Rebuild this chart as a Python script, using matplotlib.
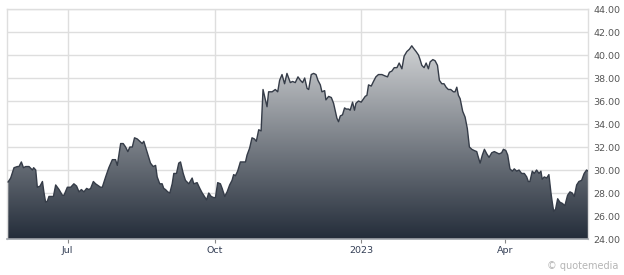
import matplotlib
matplotlib.use("Agg")
import matplotlib.pyplot as plt
import matplotlib.dates as mdates
import numpy as np
import pandas as pd
from matplotlib.colors import LinearSegmentedColormap

# Days since 2022-07-01 and closing prices
start_date = "2022-07-01"
days = [-37.3, -35.7, -33.6, -31.5, -30.5, -29.0, -27.7, -26.3, -24.2, -22.1, -21.3, -20.0,
        -19.0, -17.3, -15.8, -14.8, -13.8, -12.7, -11.7, -8.9, -7.5, -5.4, -3.3, -2.3, -0.2,
        1.9, 3.9, 5.6, 7.1, 8.6, 10.2, 11.9, 13.3, 14.4, 16.1, 17.5, 20.6, 21.7, 23.8, 25.8,
        28.0, 30.0, 31.1, 33.2, 34.8, 36.3, 37.7, 39.0, 40.5, 41.9, 43.6, 45.2, 46.7, 47.7,
        49.9, 51.9, 53.6, 55.1, 56.1, 57.7, 59.2, 60.2, 61.3, 62.7, 64.0, 65.5, 66.5, 68.2,
        69.6, 70.7, 72.4, 73.8, 75.9, 78.0, 79.0, 81.1, 82.8, 84.3, 85.7, 87.0, 88.4, 89.9,
        91.5, 92.6, 94.0, 95.7, 96.8, 98.4, 99.9, 101.5, 103.0, 104.0, 105.1, 106.5, 108.2,
        109.9, 111.4, 112.4, 114.0, 115.5, 117.0, 118.2, 119.7, 121.2, 122.4, 123.9, 124.9,
        125.9, 128.1, 130.1, 131.6, 132.8, 134.3, 135.9, 137.4, 139.5, 140.9, 142.6, 144.3,
        145.8, 147.2, 148.5, 150.0, 151.0, 152.6, 154.1, 155.6, 156.8, 158.3, 159.3, 161.0,
        161.8, 163.5, 165.2, 166.6, 167.7, 168.7, 169.7, 170.8, 172.2, 173.5, 174.5, 176.0,
        177.0, 178.5, 179.7, 180.6, 182.2, 183.9, 185.4, 186.4, 187.5, 188.5, 190.2, 191.6,
        193.1, 194.7, 196.9, 198.5, 200.4, 201.6, 203.1, 204.6, 206.3, 207.7, 209.4, 210.8,
        212.5, 214.1, 215.6, 216.6, 218.3, 219.8, 220.8, 221.9, 223.3, 224.6, 226.0, 227.1,
        228.8, 230.2, 231.7, 232.9, 234.4, 235.8, 237.1, 238.5, 240.0, 241.7, 242.7, 243.8,
        244.8, 245.9, 247.5, 249.0, 250.4, 251.7, 253.2, 254.6, 256.3, 256.9, 258.4, 259.8,
        261.1, 262.6, 264.0, 265.7, 267.3, 268.8, 270.3, 271.9, 273.0, 274.5, 275.7, 277.1,
        278.6, 279.8, 281.3, 282.8, 284.4, 286.1, 287.6, 288.6, 289.6, 291.1, 292.3, 293.8,
        295.3, 296.5, 297.3, 298.6, 300.1, 301.5, 302.8, 303.6, 304.5, 305.7, 307.0, 308.4,
        309.9, 311.5, 313.2, 314.7, 316.1, 317.4, 318.9, 320.3, 322.0, 323.6, 325.1, 326.1]
prices = [28.96, 29.3, 30.2, 30.3, 30.3, 30.7, 30.2, 30.3, 30.3, 30.0, 30.2, 30.0,
          28.5, 28.6, 29.0, 28.0, 27.2, 27.3, 27.7, 27.7, 28.7, 28.3, 27.8, 27.8, 28.5,
          28.5, 28.8, 28.6, 28.1, 28.3, 28.1, 28.4, 28.3, 28.4, 29.0, 28.8, 28.5, 28.5, 29.4, 30.2,
          30.9, 30.9, 30.4, 32.3, 32.3, 32.0, 31.6, 32.0, 32.0, 32.8, 32.7, 32.5, 32.3, 32.5,
          31.5, 30.6, 30.3, 30.4, 29.4, 28.8, 28.8, 28.4, 28.3, 28.1, 28.0, 28.8, 29.7, 29.7,
          30.6, 30.7, 29.7, 29.1, 28.8, 29.3, 28.8, 28.9, 28.4, 28.0, 27.7, 27.4, 28.0, 27.7,
          27.6, 27.6, 28.9, 28.8, 28.4, 27.7, 28.1, 28.7, 29.1, 29.6, 29.5, 29.9, 30.7,
          30.7, 30.7, 31.3, 31.9, 32.8, 32.7, 32.5, 33.5, 33.4, 37.0, 36.1, 35.5,
          36.8, 36.8, 37.0, 36.8, 37.8, 38.3, 37.5, 38.4, 37.6, 37.7, 37.6, 38.1,
          37.8, 37.6, 38.0, 37.1, 37.0, 38.3, 38.4, 38.3, 37.8, 37.4, 36.8, 36.9,
          36.1, 36.4, 36.3, 35.8, 35.1, 34.5, 34.2, 34.7, 34.8, 35.4, 35.3, 35.3,
          35.2, 35.9, 35.2, 35.8, 36.0, 35.9, 36.2, 36.4, 36.5, 37.4, 37.3, 37.7,
          38.1, 38.3, 38.3, 38.2, 38.1, 38.5, 38.6, 38.9, 38.9, 39.3, 38.8, 39.9,
          40.3, 40.5, 40.8, 40.6, 40.3, 40.0, 39.6, 39.1, 38.9, 39.3, 38.8, 39.4,
          39.6, 39.5, 39.1, 37.8, 37.5, 37.5, 37.2, 37.0, 37.0, 36.8, 36.8, 37.2,
          36.5, 36.2, 35.1, 34.6, 33.6, 32.0, 31.8, 31.7, 31.6, 31.3, 30.6, 31.3,
          31.8, 31.4, 31.1, 31.5, 31.6, 31.5, 31.4, 31.5, 31.8, 31.7, 31.3, 30.1,
          29.9, 30.1, 29.9, 30.0, 29.7, 29.7, 29.4, 29.0, 29.0, 29.9, 29.7, 30.0,
          29.7, 29.9, 29.2, 29.4, 29.3, 29.6, 28.0, 27.2, 26.4, 26.6, 27.5, 27.2,
          27.1, 26.9, 27.8, 28.1, 28.0, 27.7, 28.7, 29.0, 29.1, 29.7, 30.0, 29.9]

x_tick_dates = ["2022-07-01", "2022-10-01", "2023-01-01", "2023-04-01"]
x_tick_labels = ["Jul", "Oct", "2023", "Apr"]
y_ticks = [24, 26, 28, 30, 32, 34, 36, 38, 40, 42, 44]
y_min, y_max = 24, 44
x_start, x_end = "2022-05-24", "2023-05-23"

dates = pd.Timestamp(start_date) + pd.to_timedelta(days, unit="D")
xnum = mdates.date2num(dates.to_pydatetime())

fig = plt.figure(figsize=(6.24, 2.75), dpi=100)
ax = fig.add_axes([7 / 624, 1 - 239 / 275, 581 / 624, 230 / 275])
ax.set_facecolor("white")

xmin = mdates.date2num(pd.Timestamp(x_start).to_pydatetime())
xmax = mdates.date2num(pd.Timestamp(x_end).to_pydatetime())
ax.set_xlim(xmin, xmax)
ax.set_ylim(y_min, y_max)

# gradient fill under the line (spans from axis bottom to the data maximum)
cmap = LinearSegmentedColormap.from_list("g", ["#242d3a", "#d0d2d4"])
grad = np.linspace(0, 1, 256).reshape(-1, 1)
im = ax.imshow(grad, cmap=cmap, origin="lower", aspect="auto",
               extent=[xmin, xmax, y_min, max(prices)], zorder=2)
poly = ax.fill_between(xnum, prices, y_min, color="none", lw=0, zorder=1)
clip = poly.get_paths()[0]
im.set_clip_path(clip, transform=ax.transData)
ax.plot(xnum, prices, color="#353c48", lw=1.0, zorder=3)

# grid
ax.set_yticks(y_ticks)
ax.set_xticks(mdates.date2num(pd.to_datetime(x_tick_dates).to_pydatetime()))
ax.set_xticklabels(x_tick_labels)
ax.grid(True, color="#dedede", lw=1.0, zorder=0)
ax.set_axisbelow(True)

ax.yaxis.tick_right()
ax.set_yticklabels([f"{v:.2f}" for v in y_ticks])
ax.tick_params(axis="y", length=0, pad=4, labelsize=6.8, labelcolor="#555555")
ax.tick_params(axis="x", length=3, width=0.8, color="#888888", pad=2,
               labelsize=6.8, labelcolor="#333e55")

for side in ["top", "left", "right"]:
    ax.spines[side].set_color("#dedede")
    ax.spines[side].set_linewidth(1.0)
ax.spines["bottom"].set_color("#a0a4aa")
ax.spines["bottom"].set_linewidth(1.2)

fig.text(618 / 624, 1 - 266 / 275, "\u00a9 quotemedia", ha="right", va="center",
         fontsize=7, color="#b5b5b5")

fig.savefig("out.png", dpi=100)
